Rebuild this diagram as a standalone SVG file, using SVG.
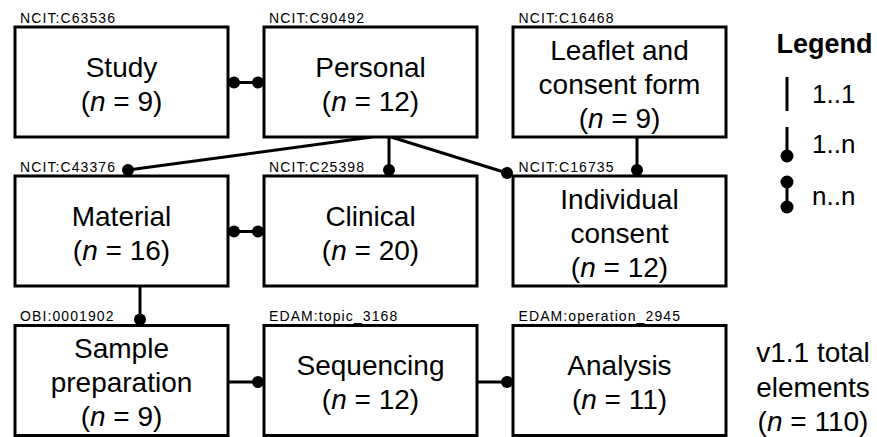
<svg xmlns="http://www.w3.org/2000/svg" width="877" height="437" viewBox="0 0 877 437">
<style>
.box{fill:#fff;stroke:#000;stroke-width:3}
.t{font-family:"Liberation Sans",Arial,sans-serif;font-size:28px;fill:#000;text-anchor:middle}
.lbl{font-family:"Liberation Sans",Arial,sans-serif;font-size:14px;letter-spacing:1.1px;fill:#000}
.c{stroke:#000;stroke-width:3;fill:none}
.d{fill:#000}
.leg{font-family:"Liberation Sans",Arial,sans-serif;font-size:26px;fill:#000}
</style>
<rect width="877" height="437" fill="#fff"/>
<g id="connectors">
  <line class="c" x1="228" y1="82.5" x2="264" y2="82.5"/>
  <circle class="d" cx="234" cy="82.5" r="6"/>
  <circle class="d" cx="258" cy="82.5" r="6"/>
  <line class="c" x1="228" y1="231.5" x2="264" y2="231.5"/>
  <circle class="d" cx="234" cy="231.5" r="6"/>
  <circle class="d" cx="258" cy="231.5" r="6"/>
  <line class="c" x1="372" y1="137" x2="128" y2="170"/>
  <circle class="d" cx="128" cy="170" r="6"/>
  <line class="c" x1="389" y1="137" x2="389" y2="170"/>
  <circle class="d" cx="389" cy="170" r="6"/>
  <line class="c" x1="391" y1="137" x2="507" y2="173"/>
  <circle class="d" cx="507" cy="173" r="6"/>
  <line class="c" x1="637" y1="137" x2="637" y2="170"/>
  <circle class="d" cx="637" cy="170" r="6"/>
  <line class="c" x1="140" y1="286" x2="140" y2="319.5"/>
  <circle class="d" cx="140" cy="319.5" r="6"/>
  <line class="c" x1="228" y1="382" x2="258" y2="382"/>
  <circle class="d" cx="258" cy="382" r="6"/>
  <line class="c" x1="477" y1="382" x2="507" y2="382"/>
  <circle class="d" cx="507" cy="382" r="6"/>
</g>
<g id="study">
  <text class="lbl" x="20" y="22.5">NCIT:C63536</text>
  <rect class="box" x="15" y="27" width="213" height="110"/>
  <text class="t" x="121.5" y="76.5">Study</text>
  <text class="t" x="121.5" y="110.5">(<tspan font-style="italic">n</tspan> = 9)</text>
</g>
<g id="personal">
  <text class="lbl" x="269" y="22.5">NCIT:C90492</text>
  <rect class="box" x="264" y="27" width="213" height="110"/>
  <text class="t" x="370.5" y="76.5">Personal</text>
  <text class="t" x="370.5" y="110.5">(<tspan font-style="italic">n</tspan> = 12)</text>
</g>
<g id="leaflet">
  <text class="lbl" x="518.5" y="22.5">NCIT:C16468</text>
  <rect class="box" x="513" y="27" width="213" height="110"/>
  <text class="t" x="619.5" y="59.5">Leaflet and</text>
  <text class="t" x="619.5" y="93.5">consent form</text>
  <text class="t" x="619.5" y="127.5">(<tspan font-style="italic">n</tspan> = 9)</text>
</g>
<g id="material">
  <text class="lbl" x="20" y="171.5">NCIT:C43376</text>
  <rect class="box" x="15" y="176" width="213" height="110"/>
  <text class="t" x="121.5" y="225.5">Material</text>
  <text class="t" x="121.5" y="259.5">(<tspan font-style="italic">n</tspan> = 16)</text>
</g>
<g id="clinical">
  <text class="lbl" x="269" y="171.5">NCIT:C25398</text>
  <rect class="box" x="264" y="176" width="213" height="110"/>
  <text class="t" x="370.5" y="225.5">Clinical</text>
  <text class="t" x="370.5" y="259.5">(<tspan font-style="italic">n</tspan> = 20)</text>
</g>
<g id="individual-consent">
  <text class="lbl" x="518.5" y="171.5">NCIT:C16735</text>
  <rect class="box" x="513" y="176" width="213" height="110"/>
  <text class="t" x="619.5" y="208.5">Individual</text>
  <text class="t" x="619.5" y="242.5">consent</text>
  <text class="t" x="619.5" y="276.5">(<tspan font-style="italic">n</tspan> = 12)</text>
</g>
<g id="sample-preparation">
  <text class="lbl" x="20" y="321">OBI:0001902</text>
  <rect class="box" x="15" y="325.5" width="213" height="110"/>
  <text class="t" x="121.5" y="358">Sample</text>
  <text class="t" x="121.5" y="392">preparation</text>
  <text class="t" x="121.5" y="426">(<tspan font-style="italic">n</tspan> = 9)</text>
</g>
<g id="sequencing">
  <text class="lbl" x="269" y="321">EDAM:topic_3168</text>
  <rect class="box" x="264" y="325.5" width="213" height="110"/>
  <text class="t" x="370.5" y="375">Sequencing</text>
  <text class="t" x="370.5" y="409">(<tspan font-style="italic">n</tspan> = 12)</text>
</g>
<g id="analysis">
  <text class="lbl" x="518.5" y="321">EDAM:operation_2945</text>
  <rect class="box" x="513" y="325.5" width="213" height="110"/>
  <text class="t" x="619.5" y="375">Analysis</text>
  <text class="t" x="619.5" y="409">(<tspan font-style="italic">n</tspan> = 11)</text>
</g>
<g id="total">
  <text class="t" x="813" y="362">v1.1 total</text>
  <text class="t" x="813" y="396.5">elements</text>
  <text class="t" x="813" y="431">(<tspan font-style="italic">n</tspan> = 110)</text>
</g>
<g id="legend">
  <text x="776.5" y="53" font-family="'Liberation Sans',Arial,sans-serif" font-size="27" font-weight="bold">Legend</text>
  <line class="c" x1="787" y1="77" x2="787" y2="111"/>
  <text class="leg" x="812" y="103">1..1</text>
  <line class="c" x1="787" y1="127" x2="787" y2="155"/>
  <circle class="d" cx="787" cy="156" r="6.5"/>
  <text class="leg" x="812" y="153">1..n</text>
  <line class="c" x1="787" y1="182" x2="787" y2="207"/>
  <circle class="d" cx="787" cy="182" r="6.5"/>
  <circle class="d" cx="787" cy="207" r="6.5"/>
  <text class="leg" x="812" y="205">n..n</text>
</g>
</svg>
